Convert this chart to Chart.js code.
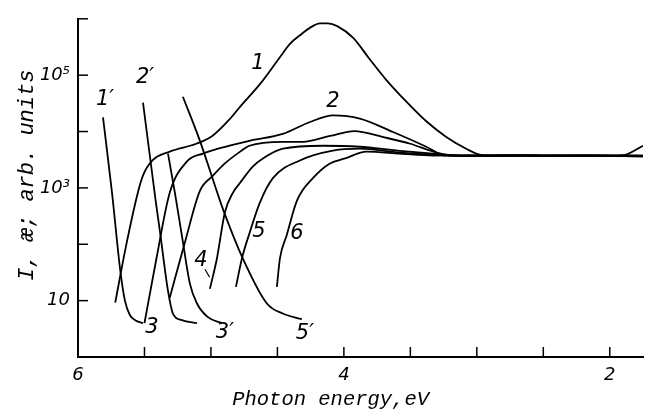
<!DOCTYPE html>
<html>
<head>
<meta charset="utf-8">
<script src="https://cdn.jsdelivr.net/npm/chart.js@4.4.1/dist/chart.umd.min.js"></script>
<style>
  html, body { margin: 0; padding: 0; background: #fff; }
  #wrap { width: 647px; height: 413px; }
</style>
</head>
<body>
<div id="wrap"><canvas id="spectra"></canvas></div>
<script>
// photon energy (eV) / intensity pairs
const curve1 = [[5.72,9.2],[5.64,90],[5.55,820],[5.51,1680],[5.44,3070],[5.31,4400],[5.11,6070],[4.99,8360],[4.86,16500],[4.78,27700],[4.63,70000],[4.48,210000],[4.406,360000],[4.33,510000],[4.256,690000],[4.18,830000],[4.12,830000],[4.05,741000],[3.93,458000],[3.81,198000],[3.68,81900],[3.53,33900],[3.38,15200],[3.23,8020],[3.08,4960],[2.96,3800],[2.80,3700],[2.60,3800],[2.40,3700],[2.20,3780],[2.00,3720],[1.90,3800],[1.75,5600]];
const curve2 = [[5.50,4.0],[5.41,56],[5.31,818],[5.18,2950],[5.06,4060],[4.86,5600],[4.71,6840],[4.46,9050],[4.26,14600],[4.08,19400],[3.88,17000],[3.63,9800],[3.38,5370],[3.24,3750],[3.00,3700],[2.70,3780],[2.40,3680],[2.10,3760],[1.75,3700]];
const curve3 = [[5.31,11.3],[5.195,110],[5.083,887],[4.99,1600],[4.895,2720],[4.78,4400],[4.71,5600],[4.46,6570],[4.31,6570],[4.105,8360],[3.92,10200],[3.71,8020],[3.50,6070],[3.35,4580],[3.24,3900],[3.00,3650],[2.70,3750],[2.40,3800],[2.10,3700],[1.75,3750]];
const curve4 = [[5.008,16.2],[4.955,56],[4.895,370],[4.835,818],[4.782,1220],[4.684,2410],[4.609,3330],[4.459,4960],[4.158,5600],[3.88,5370],[3.60,4600],[3.33,4060],[3.10,3700],[2.80,3800],[2.50,3700],[2.20,3780],[1.75,3650]];
const curve5 = [[4.812,17.5],[4.767,56],[4.707,165],[4.632,548],[4.534,1490],[4.331,3070],[4.083,4580],[3.88,4960],[3.58,4230],[3.33,3900],[3.05,3720],[2.75,3800],[2.45,3700],[2.15,3760],[1.75,3600]];
const curve6 = [[4.504,17.5],[4.481,56],[4.43,145],[4.353,594],[4.233,1490],[4.105,2720],[3.99,3330],[3.83,4400],[3.58,4060],[3.33,3750],[3.05,3800],[2.75,3700],[2.45,3780],[2.15,3700],[1.75,3750]];
const curve1p = [[5.812,17900],[5.744,818],[5.684,37.5],[5.647,10],[5.609,5.5],[5.57,4.5],[5.511,4.0]];
const curve2p = [[5.511,32600],[5.414,548],[5.383,165],[5.323,14.9],[5.286,5.9],[5.218,4.5],[5.105,4.0]];
const curve3p = [[5.323,4060],[5.271,818],[5.211,110],[5.158,19.8],[5.105,8.9],[5.023,5.1],[4.917,4.0]];
const curve5p = [[5.211,41400],[5.083,6840],[4.932,594],[4.895,339],[4.767,60.7],[4.579,8.9],[4.46,5.9],[4.316,4.7]];

const energyTicks = [2, 2.5, 3, 3.5, 4, 4.5, 5, 5.5, 6];
const energyLabels = [2, 4, 6];
const decadeTicks = [1, 10, 100, 1e3, 1e4, 1e5, 1e6];
const decadeLabels = { 10: '10', 1000: '10³', 100000: '10⁵' };

// curve labels: text, energy, intensity
const curveLabels = [
  ['1', 4.647, 162000], ['2', 4.083, 33900], ['1′', 5.797, 36700], ['2′', 5.496, 92300],
  ['3', 5.444, 3.39], ['3′', 4.895, 2.67], ['4', 5.075, 51.6], ['5', 4.639, 165],
  ['6', 4.353, 158], ['5′', 4.293, 2.56]
];

const series = [curve1, curve2, curve3, curve4, curve5, curve6, curve1p, curve2p, curve3p, curve5p];

const axisDecor = {
  id: 'axisDecor',
  afterDatasetsDraw(chart) {
    const { ctx, scales: { x, y } } = chart;
    ctx.save();
    ctx.strokeStyle = '#000';
    ctx.lineWidth = 1.5;
    energyTicks.forEach(v => {
      if (v >= 6) return;
      const px = x.getPixelForValue(v);
      ctx.beginPath(); ctx.moveTo(px, y.bottom); ctx.lineTo(px, y.bottom - 10); ctx.stroke();
    });
    decadeTicks.forEach(v => {
      if (v <= 1) return;
      const py = y.getPixelForValue(v);
      ctx.beginPath(); ctx.moveTo(x.left, py); ctx.lineTo(x.left + 10, py); ctx.stroke();
    });

    ctx.fillStyle = '#000';
    ctx.font = 'italic 21px "DejaVu Sans"';
    ctx.textAlign = 'center';
    ctx.textBaseline = 'middle';
    curveLabels.forEach(([t, e, v]) => {
      ctx.fillText(t, x.getPixelForValue(e), y.getPixelForValue(v));
    });
    // leader from label 4
    ctx.lineWidth = 1.2;
    ctx.beginPath();
    ctx.moveTo(x.getPixelForValue(5.045), y.getPixelForValue(36));
    ctx.lineTo(x.getPixelForValue(5.01), y.getPixelForValue(26));
    ctx.stroke();

    // axis titles
    ctx.font = 'italic 20.5px "Liberation Mono"';
    ctx.fillText('Photon energy,eV', x.getPixelForValue(4.1), 400);
    ctx.translate(27, y.getPixelForValue(1680));
    ctx.rotate(-Math.PI / 2);
    ctx.font = 'italic 22px "Liberation Mono"';
    ctx.fillText('I, æ; arb. units', 0, 0);
    ctx.restore();
  }
};

new Chart(document.getElementById('spectra'), {
  type: 'line',
  data: {
    datasets: series.map(s => ({
      data: s.map(([e, v]) => ({ x: e, y: v })),
      borderColor: '#000',
      borderWidth: 1.8,
      pointRadius: 0,
      fill: false,
      cubicInterpolationMode: 'monotone'
    }))
  },
  options: {
    responsive: true,
    maintainAspectRatio: false,
    animation: false,
    layout: { padding: { top: 14, right: 4, left: 0, bottom: 0 } },
    plugins: { legend: { display: false }, tooltip: { enabled: false } },
    scales: {
      x: {
        type: 'linear',
        reverse: true,
        min: 1.75,
        max: 6,
        afterBuildTicks: s => { s.ticks = energyTicks.map(v => ({ value: v })); },
        afterFit: s => { s.height = 56; },
        grid: { display: false, drawTicks: false },
        border: { display: true, color: '#000', width: 2 },
        ticks: {
          padding: 8,
          color: '#000',
          maxRotation: 0,
          autoSkip: false,
          font: { family: 'DejaVu Sans', style: 'italic', size: 18 },
          callback: v => energyLabels.includes(v) ? String(v) : ''
        }
      },
      y: {
        type: 'logarithmic',
        min: 1,
        max: 1e6,
        afterBuildTicks: s => { s.ticks = decadeTicks.map(v => ({ value: v })); },
        afterFit: s => { s.width = 78; },
        grid: { display: false, drawTicks: false },
        border: { display: true, color: '#000', width: 2 },
        ticks: {
          padding: 8,
          color: '#000',
          autoSkip: false,
          font: { family: 'DejaVu Sans', style: 'italic', size: 18 },
          callback: v => decadeLabels[v] || ''
        }
      }
    }
  },
  plugins: [axisDecor]
});
</script>
</body>
</html>
